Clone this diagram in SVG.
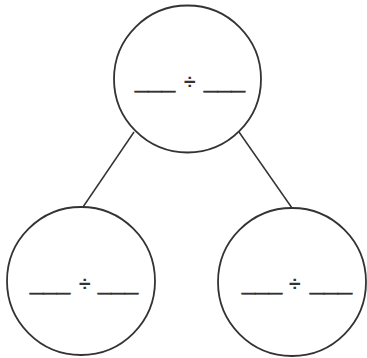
<svg xmlns="http://www.w3.org/2000/svg" width="367" height="358" viewBox="0 0 367 358">
<style>
.c{fill:#fff;stroke:#333;stroke-width:1.8}
.e{stroke:#333;stroke-width:1.5;fill:none}
.t{font-family:"Liberation Sans",Arial,sans-serif;font-size:20px;fill:#333}
.u{stroke:#333;stroke-width:0.6}
.d{font-weight:bold;font-size:21px}
</style>
<rect width="367" height="358" fill="#fff"/>
<g id="connectors">
<line class="e" x1="134" y1="132" x2="83" y2="207"/>
<line class="e" x1="239" y1="132" x2="292" y2="208"/>
</g>
<g id="top">
<circle class="c" cx="187.5" cy="79" r="73.5"/>
<text class="t"><tspan class="u" x="135" y="88" textLength="40" lengthAdjust="spacingAndGlyphs">___</tspan><tspan class="d" x="184" y="89">÷</tspan><tspan class="u" x="204" y="88" textLength="41" lengthAdjust="spacingAndGlyphs">___</tspan></text>
</g>
<g id="left">
<circle class="c" cx="81" cy="281" r="74"/>
<text class="t"><tspan class="u" x="30" y="290" textLength="40" lengthAdjust="spacingAndGlyphs">___</tspan><tspan class="d" x="79" y="291">÷</tspan><tspan class="u" x="98" y="290" textLength="40" lengthAdjust="spacingAndGlyphs">___</tspan></text>
</g>
<g id="right">
<circle class="c" cx="292" cy="282" r="74"/>
<text class="t"><tspan class="u" x="242" y="290" textLength="40" lengthAdjust="spacingAndGlyphs">___</tspan><tspan class="d" x="289" y="291">÷</tspan><tspan class="u" x="310" y="290" textLength="42" lengthAdjust="spacingAndGlyphs">___</tspan></text>
</g>
</svg>
